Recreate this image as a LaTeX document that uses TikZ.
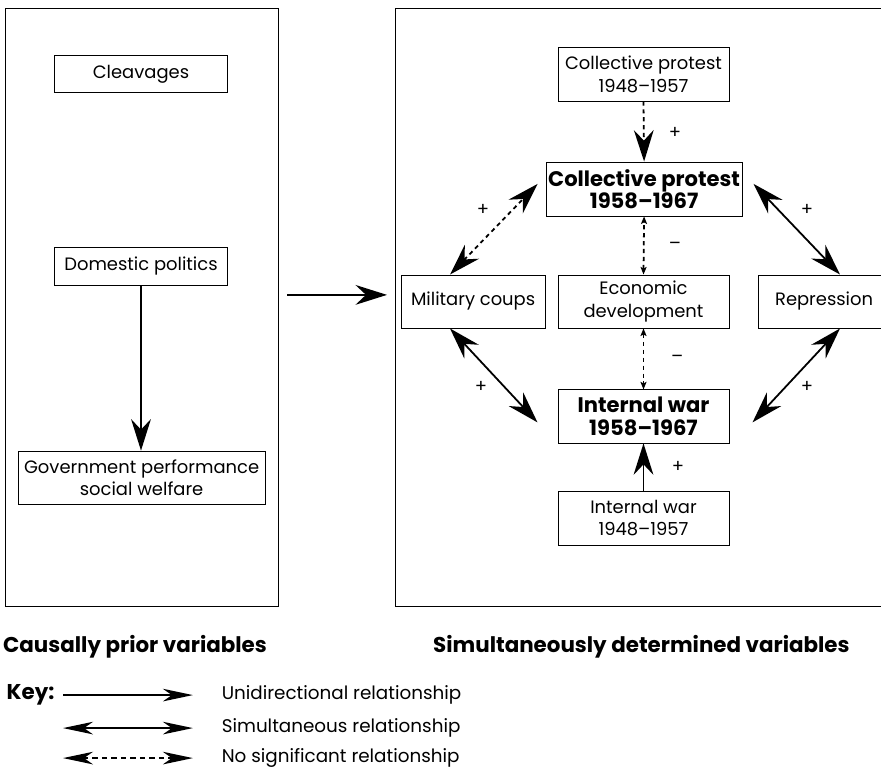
\documentclass[tikz,border=0pt]{standalone}
\usepackage{fontspec}
\setmainfont{Poppins}
\usetikzlibrary{arrows.meta}

\begin{document}
\begin{tikzpicture}[
   box/.style={draw,line width=0.8pt,align=center,inner sep=0pt,
      minimum height=1.77cm,font=\fontsize{17}{21}\selectfont},
   boldbox/.style={box,font=\fontsize{20}{21}\selectfont\bfseries},
   sign/.style={font=\fontsize{17}{17}\selectfont},
   keytxt/.style={font=\fontsize{17.4}{17.4}\selectfont,anchor=west},
   ttl/.style={font=\fontsize{20.3}{20.3}\selectfont\bfseries},
   bighead/.tip={Stealth[length=1.05cm,width=0.66cm,inset=0.35cm]},
   smallhead/.tip={Stealth[length=0.25cm,width=0.2cm,inset=0.05cm]},
   keyhead/.tip={Stealth[length=1cm,width=0.42cm,inset=0.3cm]},
   uni/.style={line width=1.7pt,-bighead},
   sim/.style={line width=1.7pt,bighead-bighead},
   nosig/.style={line width=1.7pt,dash pattern=on 4pt off 3.5pt,bighead-bighead},
   nosigone/.style={line width=1.7pt,dash pattern=on 4pt off 3.5pt,-bighead},
   nosigsmall/.style={line width=1.7pt,dash pattern=on 4pt off 3.5pt,smallhead-smallhead}
]
   \useasboundingbox (0,0) rectangle (29.367,25.7) ;
   % the two panels
   \draw[line width=0.8pt] (0.17,5.5) rectangle (9.27,25.43) ;
   \draw[line width=0.8pt] (13.17,5.5) rectangle (30.2,25.43) ;

   % causally prior variables
   \node[box,minimum width=5.77cm,minimum height=1.23cm] (cleav) at (4.70,23.23) {Cleavages} ;
   \node[box,minimum width=5.77cm,minimum height=1.27cm] (dompol) at (4.70,16.83) {Domestic politics} ;
   \node[box,minimum width=8.23cm] (govperf) at (4.72,9.78) {Government performance\\social welfare} ;
   \draw[uni] (dompol.south) -- (dompol.south |- govperf.north) ;

   \coordinate (gapL) at (9.57,15.87) ;
   \coordinate (gapR) at (12.9,15.87) ;
   \draw[uni] (gapL) -- (gapR) ;

   % simultaneously determined variables
   \node[box,minimum width=5.7cm] (cp48) at (21.45,23.22) {Collective protest\\1948--1957} ;
   \node[boldbox,minimum width=6.53cm,minimum height=1.8cm] (cp58) at (21.47,19.4) {Collective protest\\1958--1967} ;
   \node[box,minimum width=4.8cm] (mil) at (15.77,15.65) {Military coups} ;
   \node[box,minimum width=5.7cm] (econ) at (21.45,15.65) {Economic\\development} ;
   \node[box,minimum width=4.4cm] (repr) at (27.47,15.65) {Repression} ;
   \node[boldbox,minimum width=5.7cm] (iw58) at (21.45,11.82) {Internal war\\1958--1967} ;
   \node[box,minimum width=5.7cm,minimum height=1.8cm] (iw48) at (21.45,8.43) {Internal war\\1948--1957} ;

   \draw[nosigone] (cp48.south) -- (cp58.north) ;
   \draw[nosigsmall] (econ.north) -- (cp58.south) ;
   \draw[nosigsmall] (econ.south) -- (iw58.north) ;
   \draw[nosig] ([xshift=-0.77cm]mil.north) -- ([shift={(-0.27,0.17)}]cp58.west) ;
   \draw[sim] ([shift={(0.37,0.17)}]cp58.east) -- ([xshift=0.53cm]repr.north) ;
   \draw[sim] ([xshift=-0.77cm]mil.south) -- ([shift={(-0.67,-0.2)}]iw58.west) ;
   \draw[sim] ([xshift=0.53cm]repr.south) -- ([shift={(0.77,-0.2)}]iw58.east) ;
   \draw[uni] (iw48.north) -- (iw58.south) ;

   % signs
   \node[sign] (s1) at (22.5,21.27) {+} ;
   \node[sign] (s2) at (16.1,18.7) {+} ;
   \node[sign] (s3) at (26.9,18.7) {+} ;
   \node[sign] (s4) at (22.5,17.5) {--} ;
   \node[sign] (s5) at (22.57,13.73) {--} ;
   \node[sign] (s6) at (16.03,12.8) {+} ;
   \node[sign] (s7) at (26.9,12.8) {+} ;
   \node[sign] (s8) at (22.6,10.13) {+} ;

   % titles
   \node[ttl] (ttlL) at (4.5,4.13) {Causally prior variables} ;
   \node[ttl] (ttlR) at (21.38,4.13) {Simultaneously determined variables} ;

   % key
   \node[ttl,anchor=west] (key) at (0.1,2.53) {Key:} ;
   \coordinate (k1a) at (2.1,2.53) ;  \coordinate (k1b) at (6.43,2.53) ;
   \coordinate (k2a) at (2.1,1.43) ;  \coordinate (k2b) at (6.43,1.43) ;
   \coordinate (k3a) at (2.1,0.43) ;  \coordinate (k3b) at (6.43,0.43) ;
   \draw[line width=1.7pt,-keyhead] (k1a) -- (k1b) ;
   \draw[line width=1.7pt,keyhead-keyhead] (k2a) -- (k2b) ;
   \draw[line width=1.7pt,dash pattern=on 5pt off 4pt,keyhead-keyhead] (k3a) -- (k3b) ;
   \node[keytxt] (k1) at (7.27,2.53) {Unidirectional relationship} ;
   \node[keytxt] (k2) at (7.27,1.43) {Simultaneous relationship} ;
   \node[keytxt] (k3) at (7.27,0.43) {No significant relationship} ;
\end{tikzpicture}
\end{document}
